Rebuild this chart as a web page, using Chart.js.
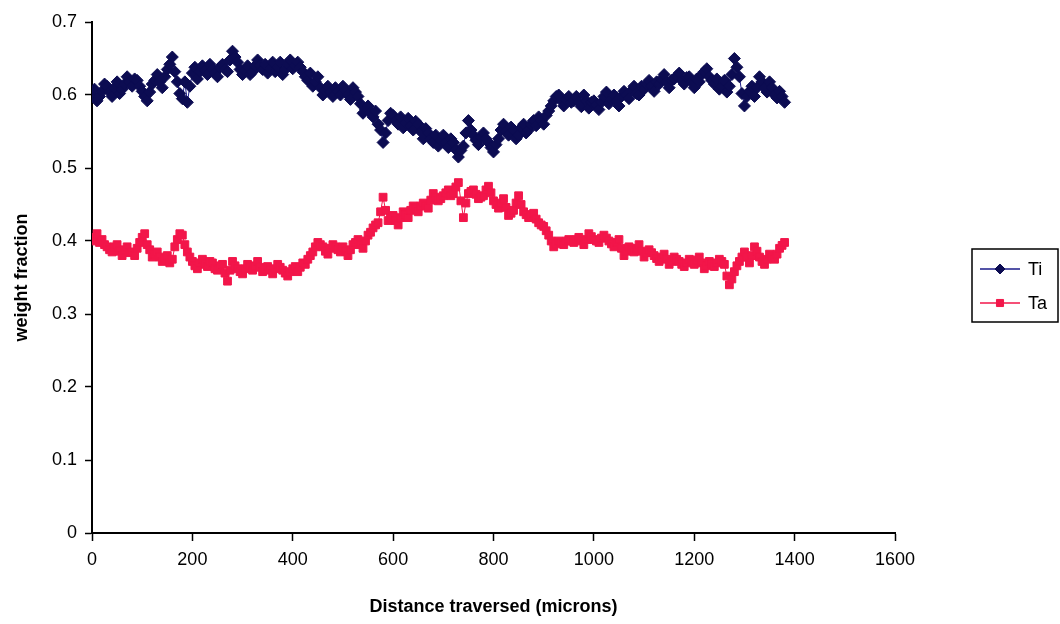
<!DOCTYPE html>
<html>
<head>
<meta charset="utf-8">
<script src="https://cdn.jsdelivr.net/npm/chart.js@4/dist/chart.umd.min.js"></script>
<style>
  html, body { margin: 0; padding: 0; background: #fff; }
  #wrap { width: 1060px; height: 624px; }
</style>
</head>
<body>
<div id="wrap"><canvas id="fracChart" width="1060" height="624"></canvas></div>
<script>
// distance traversed (microns)
const distance = [
  0, 5, 10, 15, 20, 25, 30, 35, 40, 45, 50, 55, 60, 65, 70, 75, 80, 85, 90, 95,
  100, 105, 110, 115, 120, 125, 130, 135, 140, 145, 150, 155, 160, 165, 170, 175, 180, 185, 190, 195,
  200, 205, 210, 215, 220, 225, 230, 235, 240, 245, 250, 255, 260, 265, 270, 275, 280, 285, 290, 295,
  300, 305, 310, 315, 320, 325, 330, 335, 340, 345, 350, 355, 360, 365, 370, 375, 380, 385, 390, 395,
  400, 405, 410, 415, 420, 425, 430, 435, 440, 445, 450, 455, 460, 465, 470, 475, 480, 485, 490, 495,
  500, 505, 510, 515, 520, 525, 530, 535, 540, 545, 550, 555, 560, 565, 570, 575, 580, 585, 590, 595,
  600, 605, 610, 615, 620, 625, 630, 635, 640, 645, 650, 655, 660, 665, 670, 675, 680, 685, 690, 695,
  700, 705, 710, 715, 720, 725, 730, 735, 740, 745, 750, 755, 760, 765, 770, 775, 780, 785, 790, 795,
  800, 805, 810, 815, 820, 825, 830, 835, 840, 845, 850, 855, 860, 865, 870, 875, 880, 885, 890, 895,
  900, 905, 910, 915, 920, 925, 930, 935, 940, 945, 950, 955, 960, 965, 970, 975, 980, 985, 990, 995,
  1000, 1005, 1010, 1015, 1020, 1025, 1030, 1035, 1040, 1045, 1050, 1055, 1060, 1065, 1070, 1075, 1080, 1085, 1090, 1095,
  1100, 1105, 1110, 1115, 1120, 1125, 1130, 1135, 1140, 1145, 1150, 1155, 1160, 1165, 1170, 1175, 1180, 1185, 1190, 1195,
  1200, 1205, 1210, 1215, 1220, 1225, 1230, 1235, 1240, 1245, 1250, 1255, 1260, 1265, 1270, 1275, 1280, 1285, 1290, 1295,
  1300, 1305, 1310, 1315, 1320, 1325, 1330, 1335, 1340, 1345, 1350, 1355, 1360, 1365, 1370, 1375, 1380
];

const tiFraction = [
  0.600, 0.608, 0.592, 0.598, 0.605, 0.615, 0.612, 0.604, 0.598, 0.610, 0.618, 0.602, 0.608, 0.615, 0.625, 0.618, 0.612, 0.622, 0.620, 0.612,
  0.605, 0.598, 0.592, 0.604, 0.615, 0.620, 0.628, 0.618, 0.610, 0.625, 0.635, 0.642, 0.652, 0.632, 0.618, 0.602, 0.595, 0.618, 0.590, 0.612,
  0.630, 0.638, 0.622, 0.632, 0.640, 0.634, 0.628, 0.642, 0.636, 0.630, 0.625, 0.638, 0.642, 0.635, 0.632, 0.648, 0.660, 0.652, 0.645, 0.635,
  0.628, 0.634, 0.640, 0.628, 0.632, 0.640, 0.648, 0.640, 0.635, 0.642, 0.630, 0.636, 0.645, 0.632, 0.638, 0.645, 0.628, 0.635, 0.642, 0.648,
  0.636, 0.640, 0.645, 0.638, 0.632, 0.625, 0.620, 0.630, 0.612, 0.618, 0.625, 0.610, 0.600, 0.606, 0.612, 0.604, 0.598, 0.610, 0.605, 0.600,
  0.612, 0.606, 0.600, 0.594, 0.610, 0.604, 0.598, 0.588, 0.575, 0.580, 0.585, 0.576, 0.570, 0.578, 0.560, 0.552, 0.535, 0.548, 0.565, 0.575,
  0.572, 0.565, 0.560, 0.570, 0.555, 0.562, 0.568, 0.558, 0.552, 0.564, 0.560, 0.550, 0.540, 0.554, 0.548, 0.540, 0.535, 0.545, 0.530, 0.538,
  0.545, 0.535, 0.528, 0.540, 0.535, 0.525, 0.515, 0.524, 0.530, 0.548, 0.565, 0.552, 0.545, 0.538, 0.532, 0.542, 0.548, 0.540, 0.535, 0.528,
  0.522, 0.532, 0.540, 0.552, 0.560, 0.550, 0.545, 0.556, 0.552, 0.540, 0.545, 0.555, 0.560, 0.548, 0.552, 0.560, 0.565, 0.558, 0.570, 0.565,
  0.560, 0.572, 0.578, 0.585, 0.592, 0.598, 0.600, 0.592, 0.585, 0.594, 0.598, 0.590, 0.592, 0.598, 0.590, 0.584, 0.600, 0.592, 0.582, 0.590,
  0.592, 0.586, 0.580, 0.590, 0.598, 0.604, 0.588, 0.594, 0.600, 0.592, 0.585, 0.598, 0.605, 0.600, 0.595, 0.606, 0.612, 0.602, 0.600, 0.612,
  0.608, 0.615, 0.620, 0.612, 0.605, 0.618, 0.615, 0.622, 0.628, 0.618, 0.610, 0.620, 0.622, 0.626, 0.630, 0.620, 0.615, 0.624, 0.625, 0.618,
  0.610, 0.622, 0.618, 0.628, 0.632, 0.636, 0.625, 0.620, 0.615, 0.622, 0.608, 0.612, 0.620, 0.604, 0.612, 0.628, 0.650, 0.638, 0.625, 0.602,
  0.585, 0.598, 0.605, 0.612, 0.598, 0.610, 0.625, 0.618, 0.610, 0.604, 0.618, 0.610, 0.600, 0.596, 0.605, 0.598, 0.590
];

const taFraction = [
  0.400, 0.405, 0.410, 0.398, 0.402, 0.395, 0.392, 0.388, 0.385, 0.392, 0.395, 0.386, 0.380, 0.388, 0.392, 0.384, 0.385, 0.380, 0.390, 0.398,
  0.405, 0.410, 0.395, 0.388, 0.378, 0.382, 0.385, 0.378, 0.372, 0.376, 0.380, 0.370, 0.375, 0.392, 0.402, 0.410, 0.408, 0.395, 0.385, 0.378,
  0.372, 0.366, 0.362, 0.370, 0.375, 0.368, 0.365, 0.372, 0.370, 0.362, 0.360, 0.366, 0.368, 0.356, 0.345, 0.360, 0.372, 0.366, 0.362, 0.358,
  0.355, 0.362, 0.368, 0.364, 0.360, 0.366, 0.372, 0.364, 0.358, 0.362, 0.365, 0.360, 0.355, 0.362, 0.368, 0.364, 0.360, 0.356, 0.352, 0.358,
  0.362, 0.365, 0.358, 0.364, 0.370, 0.368, 0.375, 0.380, 0.385, 0.392, 0.398, 0.395, 0.392, 0.386, 0.382, 0.390, 0.395, 0.392, 0.388, 0.385,
  0.392, 0.386, 0.380, 0.388, 0.395, 0.398, 0.402, 0.395, 0.390, 0.400, 0.408, 0.412, 0.418, 0.422, 0.425, 0.440, 0.460, 0.442, 0.428, 0.432,
  0.435, 0.428, 0.422, 0.432, 0.440, 0.436, 0.432, 0.442, 0.448, 0.444, 0.440, 0.448, 0.452, 0.448, 0.445, 0.456, 0.465, 0.460, 0.455, 0.458,
  0.462, 0.466, 0.470, 0.462, 0.465, 0.474, 0.480, 0.455, 0.432, 0.452, 0.465, 0.468, 0.470, 0.464, 0.458, 0.460, 0.462, 0.470, 0.475, 0.466,
  0.455, 0.450, 0.445, 0.452, 0.458, 0.446, 0.435, 0.438, 0.442, 0.452, 0.462, 0.450, 0.440, 0.436, 0.432, 0.436, 0.438, 0.430, 0.425, 0.422,
  0.420, 0.414, 0.408, 0.400, 0.392, 0.396, 0.400, 0.398, 0.395, 0.400, 0.402, 0.400, 0.398, 0.402, 0.405, 0.400, 0.395, 0.402, 0.410, 0.406,
  0.402, 0.400, 0.398, 0.404, 0.408, 0.404, 0.400, 0.396, 0.392, 0.398, 0.402, 0.390, 0.380, 0.386, 0.392, 0.388, 0.385, 0.390, 0.395, 0.386,
  0.378, 0.384, 0.388, 0.384, 0.380, 0.376, 0.372, 0.378, 0.382, 0.375, 0.368, 0.372, 0.378, 0.375, 0.372, 0.368, 0.365, 0.370, 0.375, 0.372,
  0.368, 0.374, 0.378, 0.370, 0.362, 0.366, 0.372, 0.368, 0.365, 0.370, 0.375, 0.372, 0.368, 0.352, 0.340, 0.348, 0.358, 0.366, 0.372, 0.378,
  0.385, 0.378, 0.370, 0.380, 0.392, 0.386, 0.378, 0.372, 0.368, 0.375, 0.382, 0.378, 0.375, 0.382, 0.390, 0.394, 0.398
];

const seriesNames = ["Ti", "Ta"];
const xTicks = [0, 200, 400, 600, 800, 1000, 1200, 1400, 1600];
const yTicks = [0, 0.1, 0.2, 0.3, 0.4, 0.5, 0.6, 0.7];

const tiColor = "#0c0c52";
const taColor = "#f2164a";
const tickFont = { family: "'Liberation Sans', Arial, sans-serif", size: 18 };
const titleFont = { family: "'Liberation Sans', Arial, sans-serif", size: 18, weight: "bold" };

// legend box on the right, drawn by hand like the spreadsheet one
const boxLegend = {
  id: "boxLegend",
  afterDraw(chart) {
    const ctx = chart.ctx;
    const left = 972, top = 249, w = 86, h = 73;
    ctx.save();
    ctx.lineWidth = 1.5;
    ctx.strokeStyle = "#000";
    ctx.strokeRect(left, top, w, h);
    chart.data.datasets.forEach((ds, i) => {
      const y = top + 20 + i * 34;
      ctx.strokeStyle = ds.borderColor;
      ctx.lineWidth = 1.5;
      ctx.beginPath();
      ctx.moveTo(left + 8, y);
      ctx.lineTo(left + 48, y);
      ctx.stroke();
      ctx.fillStyle = ds.pointBackgroundColor;
      ctx.strokeStyle = ds.pointBorderColor;
      ctx.lineWidth = 1;
      Chart.helpers.drawPoint(ctx, {
        pointStyle: ds.pointStyle, radius: 5, rotation: 0, borderWidth: 1
      }, left + 28, y);
      ctx.fillStyle = "#000";
      ctx.font = "18px 'Liberation Sans', Arial, sans-serif";
      ctx.textBaseline = "middle";
      ctx.fillText(ds.label, left + 56, y + 1);
    });
    ctx.restore();
  }
};

const ctx = document.getElementById("fracChart").getContext("2d");
const chart = new Chart(ctx, {
  type: "scatter",
  data: {
    datasets: [
      {
        label: seriesNames[0],
        data: distance.map((d, i) => ({ x: d, y: tiFraction[i] })),
        showLine: true,
        borderColor: "#1b1b8a",
        borderWidth: 1,
        pointStyle: "rectRot",
        pointRadius: 6,
        pointBackgroundColor: tiColor,
        pointBorderColor: tiColor,
        pointBorderWidth: 1
      },
      {
        label: seriesNames[1],
        data: distance.map((d, i) => ({ x: d, y: taFraction[i] })),
        showLine: true,
        borderColor: taColor,
        borderWidth: 1,
        pointStyle: "rect",
        pointRadius: 5.5,
        pointBackgroundColor: taColor,
        pointBorderColor: taColor,
        pointBorderWidth: 1
      }
    ]
  },
  options: {
    responsive: false,
    animation: false,
    events: [],
    layout: { padding: { top: 22, right: 165, left: 0, bottom: 0 } },
    plugins: {
      legend: { display: false },
      tooltip: { enabled: false }
    },
    scales: {
      x: {
        type: "linear",
        min: 0,
        max: 1600,
        afterFit(scale) { scale.height = 91; },
        afterBuildTicks(scale) { scale.ticks = xTicks.map(v => ({ value: v })); },
        ticks: {
          color: "#000",
          font: tickFont,
          padding: 8,
          maxRotation: 0,
          callback: v => String(v)
        },
        grid: { drawOnChartArea: false, tickLength: 8, tickColor: "#000", tickWidth: 1.5 },
        border: { color: "#000", width: 2 },
        title: {
          display: true,
          text: "Distance traversed (microns)",
          color: "#000",
          font: titleFont,
          padding: { top: 0, bottom: 6 }
        }
      },
      y: {
        min: 0,
        max: 0.7,
        afterFit(scale) { scale.width = 92; },
        afterBuildTicks(scale) { scale.ticks = yTicks.map(v => ({ value: v })); },
        ticks: {
          color: "#000",
          font: tickFont,
          padding: 8,
          callback: v => String(Math.round(v * 10) / 10)
        },
        grid: { drawOnChartArea: false, tickLength: 7, tickColor: "#000", tickWidth: 1.5 },
        border: { color: "#000", width: 2 },
        title: {
          display: true,
          text: "weight fraction",
          color: "#000",
          font: titleFont,
          padding: { top: 11, bottom: 0 }
        }
      }
    }
  },
  plugins: [boxLegend]
});
</script>
</body>
</html>
